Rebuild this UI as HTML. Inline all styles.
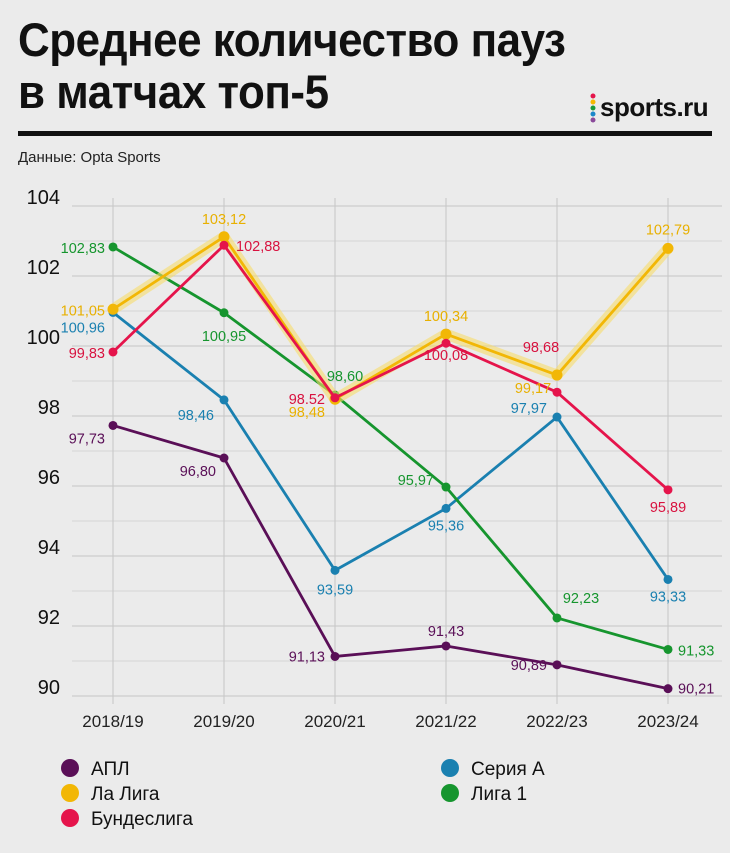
<!DOCTYPE html>
<html><head><meta charset="utf-8"><style>
body{margin:0;background:#ebebeb;}
#wrap{position:relative;width:730px;height:853px;background:#ebebeb;font-family:"Liberation Sans",sans-serif;overflow:hidden}
.title{position:absolute;left:18px;top:14px;font-family:"Liberation Sans Narrow","Liberation Sans",sans-serif;font-weight:bold;font-size:47px;line-height:52px;color:#111;letter-spacing:-0.5px;transform:scaleX(0.935);transform-origin:left top;white-space:nowrap}
</style></head><body>
<div id="wrap">
<div class="title">Среднее количество пауз<br>в матчах топ-5</div>
<div style="position:absolute;left:588px;top:92px;">
 <svg width="12" height="36"><circle cx="5" cy="4" r="2.5" fill="#e4154b"/><circle cx="5" cy="10" r="2.5" fill="#f5b800"/><circle cx="5" cy="16" r="2.5" fill="#1a9a3a"/><circle cx="5" cy="22" r="2.5" fill="#1b87c9"/><circle cx="5" cy="28" r="2.5" fill="#8a4a9a"/></svg>
 <span style="position:absolute;left:12px;top:0px;font-weight:bold;font-size:26px;color:#111;letter-spacing:-0.5px">sports.ru</span>
</div>
<div style="position:absolute;left:18px;top:131px;width:694px;height:5px;background:#111"></div>
<div style="position:absolute;left:18px;top:149px;font-size:15px;color:#222">Данные: Opta Sports</div>
<svg id="chart" width="730" height="853" style="position:absolute;left:0;top:0"></svg>
</div>
<script>
const categories=["2018/19","2019/20","2020/21","2021/22","2022/23","2023/24"];
const yTicks=[90,92,94,96,98,100,102,104];
const seriesNames=["АПЛ","Ла Лига","Бундеслига","Серия А","Лига 1"];
const apl=[97.73,96.80,91.13,91.43,90.89,90.21];
const laliga=[101.05,103.12,98.48,100.34,99.17,102.79];
const bundes=[99.83,102.88,98.52,100.08,98.68,95.89];
const seriea=[100.96,98.46,93.59,95.36,97.97,93.33];
const ligue1=[102.83,100.95,98.60,95.97,92.23,91.33];
const aplLabels=["97,73","96,80","91,13","91,43","90,89","90,21"];
const laligaLabels=["101,05","103,12","98,48","100,34","99,17","102,79"];
const bundesLabels=["99,83","102,88","98.52","100,08","98,68","95,89"];
const serieaLabels=["100,96","98,46","93,59","95,36","97,97","93,33"];
const ligue1Labels=["102,83","100,95","98,60","95,97","92,23","91,33"];
const colors={apl:"#5a0f57",laliga:"#f2b705",bundes:"#e5144b",seriea:"#1a80b0",ligue1:"#16952e"};
const NS="http://www.w3.org/2000/svg";
const svg=document.getElementById('chart');
function x(i){return 113+i*111;}
function y(v){return 696-(v-90)*35;}
function el(t,a,p){const e=document.createElementNS(NS,t);for(const k in a)e.setAttribute(k,a[k]);(p||svg).appendChild(e);return e;}
for(let v=90;v<=104;v++){const g=el('line',{x1:72,x2:722,y1:y(v),y2:y(v),stroke:v%2?'#d6d6d6':'#c6c6c6','stroke-width':1});

}
categories.forEach((c,i)=>{const g=el('line',{x1:x(i),x2:x(i),y1:198,y2:704,stroke:'#c6c6c6','stroke-width':1});


const t=el('text',{x:x(i),y:727,'text-anchor':'middle','font-size':17,fill:'#222','font-family':'Liberation Sans'});t.textContent=c;

});
yTicks.forEach(v=>{const t=el('text',{x:60,y:y(v)-2,'text-anchor':'end','font-size':20,fill:'#111','font-family':'Liberation Sans'});t.textContent=v;

});
function series(vals,col,name,glow){
 const pts=vals.map((v,i)=>x(i)+','+y(v)).join(' ');
 if(glow){const g=el('polyline',{points:pts,fill:'none',stroke:'#f7dc6a','stroke-width':11,'stroke-opacity':0.6,'stroke-linejoin':'round'});
 
 }
 const l=el('polyline',{points:pts,fill:'none',stroke:col,'stroke-width':2.8,'stroke-linejoin':'round'});
 
 
 vals.forEach((v,i)=>{const c=el('circle',{cx:x(i),cy:y(v),r:glow?5.5:4.5,fill:col});
 
 });
}
series(apl,colors.apl,'apl');
series(seriea,colors.seriea,'seriea');
series(ligue1,colors.ligue1,'ligue1');
series(laliga,colors.laliga,'laliga',true);
series(bundes,colors.bundes,'bundes');
const off={
 apl:[[-8,18,'end'],[-8,18,'end'],[-10,5,'end'],[0,-10,'middle'],[-10,5,'end'],[10,5,'start']],
 laliga:[[-8,6,'end'],[0,-13,'middle'],[-10,18,'end'],[0,-13,'middle'],[-24,18,'middle'],[0,-14,'middle']],
 bundes:[[-8,6,'end'],[12,6,'start'],[-10,6,'end'],[0,17,'middle'],[-16,-40,'middle'],[0,22,'middle']],
 seriea:[[-8,20,'end'],[-10,20,'end'],[0,24,'middle'],[0,22,'middle'],[-10,-4,'end'],[0,22,'middle']],
 ligue1:[[-8,6,'end'],[0,28,'middle'],[10,-14,'middle'],[-12,-2,'end'],[24,-15,'middle'],[10,6,'start']]};
function labels(vals,labs,col,key){vals.forEach((v,i)=>{const o=off[key][i];
 const t=el('text',{x:x(i)+o[0],y:y(v)+o[1],'text-anchor':o[2],'font-size':14.5,fill:col,'font-family':'Liberation Sans'});t.textContent=labs[i];
 
 });}
labels(apl,aplLabels,colors.apl,'apl');
labels(laliga,laligaLabels,'#e8b000','laliga');
labels(bundes,bundesLabels,'#d8123f','bundes');
labels(seriea,serieaLabels,colors.seriea,'seriea');
labels(ligue1,ligue1Labels,colors.ligue1,'ligue1');
const legendKeys=['apl','laliga','bundes','seriea','ligue1'];
const legPos=[[70,768],[70,793],[70,818],[450,768],[450,793]];
legendKeys.forEach((k,i)=>{const p=legPos[i];
 const c=el('circle',{cx:p[0],cy:p[1],r:9,fill:colors[k]});
 
 
 const t=el('text',{x:p[0]+21,y:p[1]+7,'font-size':19,fill:'#111','font-family':'Liberation Sans'});t.textContent=seriesNames[i];
 
 });
</script>
</body></html>
